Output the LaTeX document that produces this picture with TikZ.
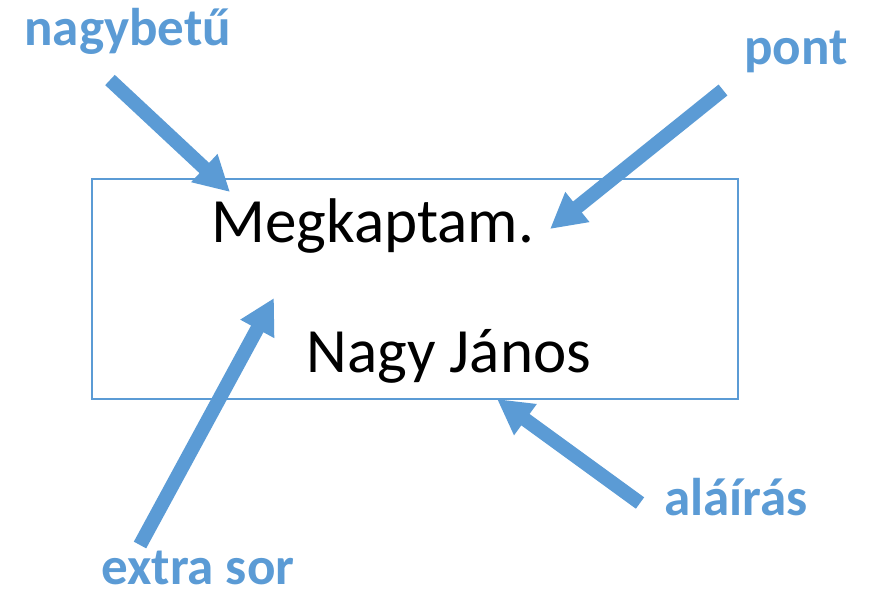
\documentclass[tikz,border=0pt]{standalone}
\usepackage{fontspec}
\setmainfont{Carlito}
\usepackage{xcolor}
\usetikzlibrary{arrows.meta}
\definecolor{callout}{HTML}{5B9BD5}

\begin{document}
\begin{tikzpicture}[x=0.02cm, y=-0.02cm,
    tag/.style={text=callout, font=\fontsize{30.2}{34}\selectfont\bfseries, inner sep=0pt, anchor=base west},
    body/.style={font=\fontsize{35.9}{42}\selectfont, inner sep=0pt, anchor=base west},
    pointer/.style={draw=callout, line width=8pt, -{Triangle[length=20pt, width=20.5pt]}}]
    \useasboundingbox (0,0) rectangle (874,592);
    \node (card) [draw=callout, line width=0.8pt, minimum width=12.92cm, minimum height=4.4cm, inner sep=0pt] at (415,289) {};
    \node (msg) [body] at (211,242) {Megkaptam.}; \node (sign) [body] at (306,372) {Nagy János};
    \node (capital) [tag] at (24,45) {nagybetű}; \node (dot) [tag] at (744,64) {pont};
    \node (gap) [tag] at (101,584) {extra sor}; \node (signature) [tag] at (664,515) {aláírás};
    \coordinate (capital-from) at (110,80); \coordinate (capital-to) at (230,192);
    \coordinate (dot-from) at (723,90); \coordinate (dot-to) at (550,229);
    \coordinate (gap-from) at (140,545); \coordinate (gap-to) at (274,298);
    \coordinate (signature-from) at (640,503); \coordinate (signature-to) at (497,399);
    \draw[pointer] (capital-from) -- (capital-to); \draw[pointer] (dot-from) -- (dot-to);
    \draw[pointer] (gap-from) -- (gap-to); \draw[pointer] (signature-from) -- (signature-to);
\end{tikzpicture}
\end{document}
